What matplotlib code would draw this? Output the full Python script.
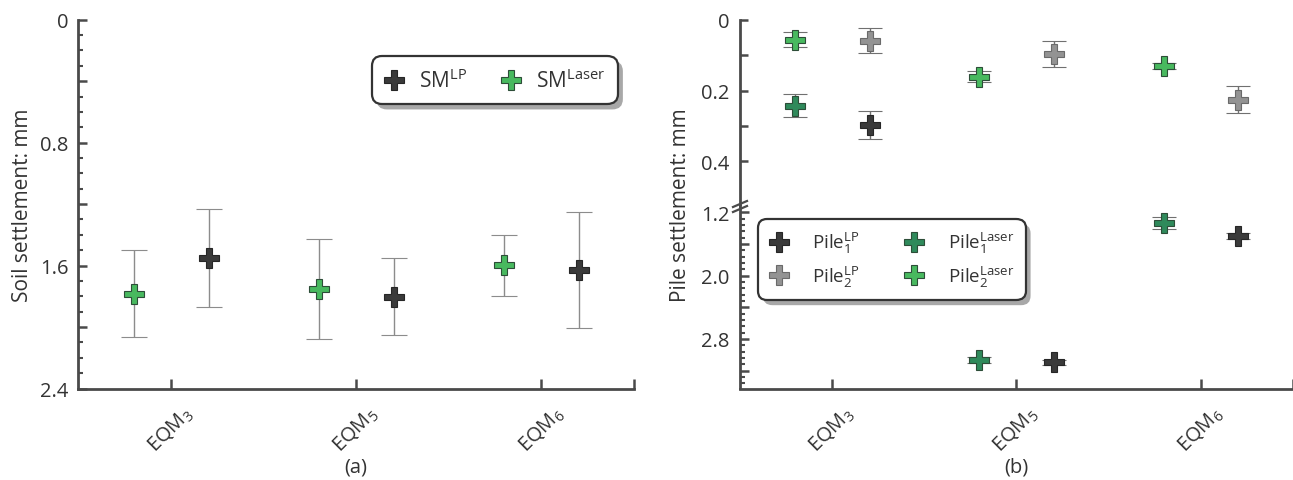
import matplotlib
matplotlib.use('Agg')
import matplotlib.pyplot as plt
import numpy as np
from matplotlib.lines import Line2D
from matplotlib.patches import FancyBboxPatch
from matplotlib.transforms import IdentityTransform
from matplotlib.ticker import FixedLocator, FuncFormatter

plt.rcParams['font.family'] = ['Open Sans', 'DejaVu Sans']
plt.rcParams['mathtext.default'] = 'regular'

# ---------------- data ----------------
categories = [r'EQM$_3$', r'EQM$_5$', r'EQM$_6$']

# (a) soil settlement (mm)
sm_lp = [1.552, 1.804, 1.629]
sm_lp_err = [0.320, 0.250, 0.378]
sm_laser = [1.782, 1.754, 1.598]
sm_laser_err = [0.285, 0.327, 0.200]

# (b) pile settlement (mm)
pile1_lp = [0.297, 3.094, 1.495]
pile1_lp_err = [0.039, 0.030, 0.037]
pile2_lp = [0.059, 0.097, 0.226]
pile2_lp_err = [0.035, 0.037, 0.038]
pile1_laser = [0.243, 3.065, 1.335]
pile1_laser_err = [0.033, 0.040, 0.075]
pile2_laser = [0.056, 0.161, 0.130]
pile2_laser_err = [0.020, 0.016, 0.008]

# ---------------- style ----------------
C_DARK = '#3a3a3a'
C_GRAY = '#939393'
C_DKGREEN = '#2f8a5b'
C_GREEN = '#48b95f'
E_DARK = '#262626'
E_GRAY = '#6a6a6a'
E_GREEN = '#2d4d38'
SPINE = '#4a4a4a'
TXT = '#333333'

W, H = 1293, 481
fig = plt.figure(figsize=(W / 100, H / 100), dpi=100)

def fr(x0, y0, x1, y1):
    return [x0 / W, 1 - y1 / H, (x1 - x0) / W, (y1 - y0) / H]

axL = fig.add_axes(fr(78.3, 20.7, 634, 389.5))
axU = fig.add_axes(fr(739.5, 20.7, 1292.7, 206.7))
axD = fig.add_axes(fr(739.5, 206.7, 1292.7, 389.5))

x = np.arange(len(categories))
OFF_L, OFF_R = -0.20, 0.205
MS = 14

def eb(ax, xs, ys, errs, fc, ec, ecol, cap, capthick, elw):
    ax.errorbar(xs, ys, yerr=errs, fmt='P', ms=MS, mfc=fc, mec=ec, mew=0.8,
                ecolor=ecol, elinewidth=elw, capsize=cap, capthick=capthick,
                zorder=3)

# ---- panel (a)
eb(axL, x + OFF_L, sm_laser, sm_laser_err, C_GREEN, E_GREEN, '#8c8c8c', 9.2, 1.3, 1.0)
eb(axL, x + OFF_R, sm_lp, sm_lp_err, C_DARK, E_DARK, '#8c8c8c', 9.2, 1.3, 1.0)

# ---- panel (b)
for ax in (axU, axD):
    eb(ax, x + OFF_L, pile1_laser, pile1_laser_err, C_DKGREEN, E_GREEN, '#707070', 8.6, 1.6, 1.0)
    eb(ax, x + OFF_L, pile2_laser, pile2_laser_err, C_GREEN, E_GREEN, '#707070', 8.6, 1.6, 1.0)
    eb(ax, x + OFF_R, pile1_lp, pile1_lp_err, C_DARK, E_DARK, '#707070', 8.6, 1.6, 1.0)
    eb(ax, x + OFF_R, pile2_lp, pile2_lp_err, C_GRAY, E_GRAY, '#707070', 8.6, 1.6, 1.0)

# ---- axes styling
for ax in (axL, axU, axD):
    ax.set_xlim(-0.5, 2.5)
    for s in ('top', 'right'):
        ax.spines[s].set_visible(False)
    ax.spines['left'].set_linewidth(2.0)
    ax.spines['left'].set_color(SPINE)
    ax.spines['bottom'].set_linewidth(2.0)
    ax.spines['bottom'].set_color(SPINE)
    ax.tick_params(axis='y', which='both', direction='in', colors=SPINE,
                   labelcolor=TXT, labelsize=14.5, pad=7)
    ax.tick_params(axis='y', which='major', length=6.5, width=1.8)
    ax.tick_params(axis='y', which='minor', length=3.3, width=1.5)

axU.spines['bottom'].set_visible(False)

def fmt_every(step):
    def f(v, pos):
        r = v / step
        if abs(r - round(r)) < 1e-6:
            return '0' if abs(v) < 1e-9 else f'{v:.1f}'
        return ''
    return FuncFormatter(f)

# panel (a) y axis
axL.set_ylim(2.4, 0)
axL.yaxis.set_major_locator(FixedLocator(np.arange(0, 2.41, 0.4)))
axL.yaxis.set_major_formatter(fmt_every(0.8))
axL.yaxis.set_minor_locator(FixedLocator(np.arange(0, 2.41, 0.1)))
axL.set_ylabel('Soil settlement: mm', fontsize=15, color=TXT, labelpad=5)

# panel (b) upper
axU.set_ylim(0.525, 0)
axU.yaxis.set_major_locator(FixedLocator(np.arange(0, 0.41, 0.1)))
axU.yaxis.set_major_formatter(fmt_every(0.2))
axU.tick_params(axis='y', which='major', length=6.0)
axU.set_xticks([])

# panel (b) lower
axD.set_ylim(3.425, 1.117)
axD.yaxis.set_major_locator(FixedLocator(np.arange(1.2, 3.41, 0.4)))
axD.yaxis.set_major_formatter(FuncFormatter(
    lambda v, p: f'{v:.1f}' if min(abs(v - t) for t in (1.2, 2.0, 2.8)) < 1e-6 else ''))
axD.yaxis.set_minor_locator(FixedLocator(np.arange(1.2, 3.41, 0.08)))
fig.text(680 / W, 1 - 205 / H, 'Pile settlement: mm', rotation=90, fontsize=15,
         color=TXT, ha='center', va='center')

# x axes
for ax in (axL, axD):
    ax.set_xticks(x)
    ax.set_xticklabels(categories, rotation=45, ha='center', va='top')
    ax.set_xticks([2.5], minor=True)
    ax.tick_params(axis='x', which='both', direction='in', length=7.5, width=1.8,
                   colors=SPINE, labelcolor=TXT, labelsize=14.5, pad=10)

# axis break marks
for dy in (0, 5):
    fig.add_artist(Line2D([733 / W, 747 / W], [1 - (208 + dy) / H, 1 - (202 + dy) / H],
                          transform=fig.transFigure, color=SPINE, lw=1.6))

# panel labels
fig.text(356 / W, 1 - 468 / H, '(a)', ha='center', va='center', fontsize=14.5, color=TXT)
fig.text(1016 / W, 1 - 468 / H, '(b)', ha='center', va='center', fontsize=14.5, color=TXT)

# ---- legends
def h(fc, ec):
    return Line2D([], [], marker='P', ls='none', ms=MS, mfc=fc, mec=ec, mew=0.8)

legL = axL.legend([h(C_DARK, E_DARK), h(C_GREEN, E_GREEN)],
                  [r'SM$^{LP}$', r'SM$^{Laser}$'], ncol=2, loc='upper right',
                  bbox_to_anchor=(0.971, 0.902), borderaxespad=0, fontsize=15,
                  frameon=True, fancybox=True, framealpha=1, edgecolor='#333333',
                  handlelength=1.0, handletextpad=0.7, columnspacing=1.6,
                  borderpad=0.6)
legR = axD.legend([h(C_DARK, E_DARK), h(C_GRAY, E_GRAY), h(C_DKGREEN, E_GREEN), h(C_GREEN, E_GREEN)],
                  [r'Pile$_1^{LP}$', r'Pile$_2^{LP}$', r'Pile$_1^{Laser}$', r'Pile$_2^{Laser}$'],
                  ncol=2, loc='upper left', bbox_to_anchor=(0.0334, 0.927),
                  borderaxespad=0, fontsize=13.5, frameon=True, fancybox=True,
                  framealpha=1, edgecolor='#333333', handlelength=1.0,
                  handletextpad=1.3, columnspacing=2.4, borderpad=0.6,
                  labelspacing=0.45)
for lg in (legL, legR):
    lg.get_frame().set_linewidth(1.6)
    lg.get_frame().set_boxstyle('round', pad=0, rounding_size=0.5)
    for t in lg.get_texts():
        t.set_color(TXT)

fig.canvas.draw()
for ax, lg in ((axL, legL), (axD, legR)):
    f = lg.get_frame()
    sh = FancyBboxPatch((f.get_x() + 5, f.get_y() - 5), f.get_width(), f.get_height(),
                        boxstyle=f.get_boxstyle(), mutation_scale=f.get_mutation_scale(),
                        transform=IdentityTransform(), facecolor='#a8a8a8',
                        edgecolor='none', zorder=lg.get_zorder() - 0.1, clip_on=False)
    ax.add_artist(sh)

fig.savefig('out.png', dpi=100, facecolor='white')
